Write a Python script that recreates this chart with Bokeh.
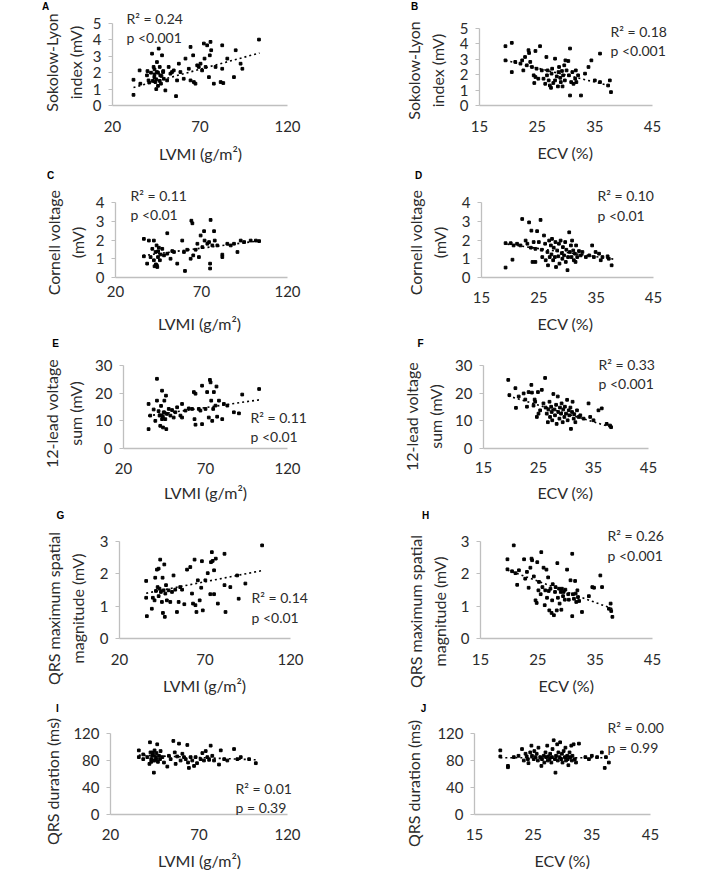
import math
from bokeh.plotting import figure
from bokeh.layouts import column, row
from bokeh.models import Range1d, FixedTicker, Label
from bokeh.embed import file_html
from bokeh.resources import INLINE

# ---------------- data ----------------
lvmi_ticks = [20, 70, 120]
ecv_ticks = [15, 25, 35, 45]

# A: LVMI vs Sokolow-Lyon
a_x = [32.0, 32.0, 35.5, 35.9, 39.7, 40.6, 42.6, 43.5, 43.9, 44.5, 45.4, 45.4, 46.4, 47.0, 47.3, 47.7, 48.3, 48.9,
       49.3, 50.2, 51.2, 52.1, 53.1, 54.0, 55.0, 56.3, 56.9, 57.9, 58.8, 60.7, 61.7, 63.6, 64.6, 64.6, 66.1, 66.5,
       67.4, 68.4, 69.3, 70.3, 71.2, 72.2, 72.6, 73.2, 74.1, 75.1, 75.6, 76.0, 76.4, 77.9, 78.9, 81.8, 82.7, 82.7,
       83.3, 85.6, 89.4, 90.4, 93.2, 94.2, 103.7, 44.0, 45.0, 46.0, 44.0, 47.0, 43.0, 48.0, 42.0, 46.0, 49.0, 40.0,
       41.0, 45.0]
a_y = [0.65, 1.57, 2.14, 1.33, 1.84, 1.53, 3.16, 2.35, 1.73, 1.43, 2.65, 2.04, 3.47, 2.35, 1.84, 1.33, 3.06, 2.04,
       1.63, 0.92, 1.53, 2.35, 1.94, 2.04, 2.14, 0.57, 1.53, 2.55, 2.04, 1.63, 2.86, 2.24, 3.57, 1.53, 3.06, 1.43,
       1.33, 2.45, 2.35, 2.55, 2.14, 3.78, 2.86, 2.35, 3.67, 1.73, 3.06, 3.88, 3.37, 1.33, 2.35, 1.43, 3.67, 2.24,
       1.37, 2.86, 1.73, 3.37, 2.55, 2.24, 4.02, 1.9, 1.6, 2.0, 2.2, 1.5, 1.5, 1.8, 2.0, 1.2, 2.1, 2.1, 1.4, 1.0]
a_trend_x = [32, 104]
a_trend_y = [1.1, 3.2]

# B: ECV vs Sokolow-Lyon
b_x = [19.5, 19.5, 20.6, 20.6, 21.2, 22.1, 22.4, 22.6, 22.9, 23.2, 23.5, 23.6, 23.8, 24.1, 24.4, 24.5, 24.7, 24.7,
       24.9, 25.2, 25.5, 25.8, 26.1, 26.4, 26.6, 26.7, 26.8, 27.0, 27.2, 27.4, 27.5, 27.6, 27.8, 28.1, 28.1, 28.4,
       28.6, 28.7, 28.8, 29.0, 29.1, 29.3, 29.4, 29.5, 29.7, 29.8, 29.9, 30.1, 30.4, 30.5, 30.7, 30.7, 30.9, 31.1,
       31.3, 31.6, 31.7, 31.8, 32.1, 32.6, 33.3, 33.9, 34.4, 35.0, 35.9, 35.9, 37.3, 37.6, 37.8]
b_y = [3.85, 2.93, 4.07, 2.17, 2.83, 2.72, 2.93, 2.28, 3.15, 2.61, 3.59, 3.41, 2.83, 2.50, 1.96, 1.46, 3.54, 1.85,
       2.39, 1.74, 3.85, 2.28, 1.74, 1.41, 3.15, 1.96, 2.28, 1.63, 1.30, 1.15, 2.07, 2.39, 1.46, 1.63, 3.04, 1.89,
       1.24, 2.17, 2.50, 1.80, 1.52, 2.24, 1.24, 1.96, 2.61, 1.63, 2.93, 2.28, 2.89, 1.96, 3.70, 0.65, 1.52, 2.17,
       1.41, 1.74, 2.28, 1.52, 1.96, 0.65, 2.07, 2.50, 2.93, 1.63, 3.37, 1.52, 1.30, 1.63, 0.87]
b_trend_x = [19.5, 38.0]
b_trend_y = [2.93, 1.25]

# C: LVMI vs Cornell voltage
c_x = [36.5, 36.5, 38.4, 39.4, 40.4, 41.4, 42.3, 42.3, 42.7, 43.3, 43.9, 44.3, 44.7, 45.2, 45.8, 46.2, 47.2, 48.2,
       50.1, 50.1, 52.0, 53.0, 54.0, 55.9, 58.8, 59.8, 60.4, 61.7, 63.7, 64.1, 64.7, 65.2, 66.6, 67.6, 68.5, 69.5,
       70.5, 71.5, 71.8, 73.4, 74.4, 75.0, 75.0, 75.3, 76.3, 77.3, 77.7, 79.2, 82.1, 82.1, 85.0, 87.0, 88.9, 90.9,
       92.8, 94.8, 98.6, 101.6, 103.5, 43.5, 44.0, 44.8]
c_y = [2.06, 1.13, 0.74, 1.97, 1.09, 1.53, 1.97, 0.92, 0.60, 1.36, 1.71, 0.56, 1.09, 1.59, 0.92, 1.23, 1.53, 1.18,
       2.36, 1.27, 1.00, 1.41, 1.36, 0.74, 1.97, 1.36, 0.35, 1.48, 1.00, 3.03, 2.89, 1.18, 1.48, 1.80, 1.09, 2.24,
       1.62, 2.47, 1.97, 1.80, 1.89, 0.74, 0.48, 3.07, 1.71, 2.47, 1.97, 1.71, 1.09, 1.22, 1.80, 1.71, 1.80, 1.36,
       1.97, 1.89, 1.97, 1.97, 1.94, 0.7, 0.65, 1.4]
c_trend_x = [36, 104]
c_trend_y = [1.17, 1.96]

# D: ECV vs Cornell voltage
d_x = [19.2, 19.2, 20.1, 20.4, 20.6, 21.2, 21.8, 22.1, 22.7, 23.0, 23.3, 23.6, 23.7, 23.9, 24.1, 24.4, 24.4, 24.7,
       25.0, 25.3, 25.5, 25.6, 25.9, 26.1, 26.2, 26.5, 26.6, 26.8, 26.9, 27.1, 27.2, 27.3, 27.5, 27.6, 27.8, 27.9,
       28.0, 28.2, 28.4, 28.5, 28.6, 28.8, 29.0, 29.1, 29.2, 29.4, 29.6, 29.7, 29.8, 30.0, 30.1, 30.3, 30.4, 30.6,
       30.7, 30.8, 31.0, 31.1, 31.3, 31.4, 31.5, 31.7, 32.0, 32.3, 32.6, 33.2, 33.8, 34.3, 34.6, 34.9, 35.5, 35.8,
       36.1, 37.0, 37.2, 37.7]
d_y = [0.53, 1.83, 1.83, 0.95, 1.71, 1.80, 1.71, 3.12, 1.97, 1.80, 2.94, 1.59, 2.50, 0.83, 1.89, 1.53, 0.83, 2.47,
       1.89, 3.07, 1.48, 1.09, 2.24, 1.80, 0.92, 1.36, 0.65, 1.97, 1.09, 1.71, 1.23, 2.06, 0.92, 1.59, 1.09, 1.89,
       0.56, 1.44, 1.13, 1.80, 0.74, 1.97, 1.30, 1.00, 1.62, 1.18, 1.89, 0.83, 1.48, 0.39, 1.09, 2.41, 1.36, 1.71,
       1.09, 1.97, 1.44, 0.92, 1.27, 0.83, 1.71, 1.09, 1.41, 1.18, 1.36, 1.09, 1.18, 1.71, 1.09, 1.36, 1.27, 0.92,
       1.09, 1.13, 1.00, 0.65]
d_trend_x = [19.5, 38.0]
d_trend_y = [1.78, 0.98]

# E: LVMI vs 12-lead voltage sum
e_x = [35.3, 35.3, 36.3, 38.4, 39.4, 40.4, 40.4, 41.4, 42.0, 42.4, 42.9, 43.5, 43.5, 44.1, 44.5, 44.9, 45.5, 45.9,
       46.1, 46.5, 47.6, 48.6, 49.6, 50.6, 51.6, 52.7, 54.7, 55.7, 55.7, 57.8, 59.8, 61.8, 62.9, 63.3, 63.9, 63.9,
       65.9, 66.9, 67.9, 67.9, 70.0, 71.0, 72.0, 72.7, 73.1, 73.5, 74.1, 74.7, 75.1, 76.1, 76.7, 77.1, 78.2, 80.2,
       81.2, 83.3, 87.3, 90.4, 92.4, 102.7, 43.0, 44.0, 45.0]
e_y = [7.0, 16.1, 11.9, 14.1, 10.0, 25.2, 17.3, 13.5, 11.9, 8.2, 15.4, 20.9, 10.6, 7.6, 13.1, 17.3, 10.6, 19.1,
       7.0, 12.5, 14.3, 11.9, 13.9, 11.2, 13.1, 14.9, 11.9, 11.2, 16.1, 13.7, 14.5, 14.3, 20.4, 10.6, 19.8, 8.6,
       14.3, 13.7, 8.8, 22.7, 14.3, 20.4, 11.2, 24.8, 23.9, 17.3, 10.0, 14.3, 20.4, 15.5, 22.4, 11.5, 17.3, 10.6,
       16.1, 15.5, 13.1, 12.7, 19.5, 21.5, 12.0, 11.5, 13.0]
e_trend_x = [35, 103]
e_trend_y = [11.8, 17.6]

# F: ECV vs 12-lead voltage sum
f_x = [19.5, 19.7, 20.8, 20.9, 21.4, 22.3, 22.6, 22.9, 23.2, 23.7, 23.8, 24.1, 24.3, 24.4, 24.7, 24.9, 25.0, 25.3,
       25.6, 25.9, 26.2, 26.3, 26.5, 26.7, 26.8, 27.0, 27.1, 27.3, 27.4, 27.5, 27.7, 27.9, 28.0, 28.2, 28.3, 28.5,
       28.6, 28.8, 28.9, 29.1, 29.2, 29.4, 29.5, 29.7, 29.8, 30.0, 30.2, 30.3, 30.5, 30.6, 30.8, 30.9, 31.1, 31.2,
       31.4, 31.5, 31.7, 32.0, 32.3, 32.6, 33.2, 34.1, 34.4, 35.0, 35.9, 36.5, 37.4, 38.0, 38.2]
f_y = [24.8, 19.3, 21.8, 14.7, 18.8, 19.9, 17.7, 15.1, 20.4, 23.0, 20.2, 15.5, 17.7, 16.9, 11.4, 20.4, 12.6, 13.8,
       21.2, 16.3, 25.5, 14.8, 12.6, 9.5, 14.1, 16.9, 11.4, 15.1, 13.2, 10.2, 19.7, 14.1, 12.0, 15.8, 8.9, 18.8,
       13.2, 10.8, 14.8, 12.6, 16.3, 9.5, 14.1, 11.4, 15.1, 12.6, 17.6, 10.2, 13.8, 12.0, 14.8, 7.1, 13.2, 16.9,
       10.8, 12.4, 9.5, 13.8, 11.4, 12.0, 10.8, 16.3, 11.4, 10.2, 13.8, 14.5, 8.9, 8.3, 7.7]
f_trend_x = [19.5, 38.2]
f_trend_y = [19.0, 7.7]

# G: LVMI vs QRS maximum spatial magnitude
g_x = [35.6, 35.6, 36.0, 38.9, 39.5, 40.5, 40.9, 41.3, 41.9, 42.3, 42.9, 42.9, 43.4, 43.8, 44.2, 44.8, 45.2, 45.4,
       45.8, 46.2, 46.5, 46.8, 47.2, 47.7, 48.7, 49.7, 50.7, 51.6, 52.6, 53.6, 54.6, 55.5, 56.6, 57.9, 59.5, 61.4,
       62.4, 63.0, 63.9, 64.4, 65.0, 65.8, 66.9, 67.8, 68.2, 68.7, 70.2, 71.6, 73.1, 73.5, 74.0, 74.5, 75.3, 75.3,
       76.3, 77.5, 81.4, 81.4, 82.0, 84.8, 88.8, 89.7, 93.6, 103.4]
g_y = [1.78, 1.26, 0.69, 0.92, 1.26, 1.18, 1.88, 1.47, 2.13, 1.59, 2.16, 1.31, 1.54, 2.44, 1.44, 1.13, 1.88, 0.79,
       1.49, 2.29, 0.67, 1.39, 1.65, 1.18, 1.49, 1.13, 1.44, 1.95, 1.51, 0.82, 1.13, 1.59, 1.51, 1.06, 2.13, 2.21,
       1.39, 1.08, 2.44, 1.03, 0.82, 1.80, 1.18, 1.57, 2.39, 0.87, 1.80, 2.02, 1.37, 2.36, 2.67, 2.40, 2.11, 1.37,
       2.47, 1.08, 2.62, 1.65, 0.82, 1.59, 1.95, 1.23, 1.70, 2.88]
g_trend_x = [35.6, 103.4]
g_trend_y = [1.40, 2.10]

# H: ECV vs QRS maximum spatial magnitude
h_x = [19.7, 19.7, 20.8, 20.5, 21.1, 21.4, 21.7, 22.6, 22.8, 23.1, 23.4, 23.7, 23.9, 24.0, 24.3, 24.6, 24.8, 24.9,
       25.1, 25.2, 25.5, 25.6, 25.8, 26.0, 26.2, 26.3, 26.5, 26.6, 26.8, 26.9, 27.0, 27.2, 27.4, 27.5, 27.6, 27.8,
       28.0, 28.1, 28.3, 28.4, 28.5, 28.7, 28.8, 29.0, 29.1, 29.2, 29.4, 29.5, 29.7, 29.8, 30.1, 30.3, 30.4, 30.7,
       31.0, 31.0, 31.1, 31.3, 31.5, 31.6, 31.7, 31.9, 32.0, 32.2, 32.7, 33.9, 34.5, 34.8, 35.9, 36.2, 37.4, 37.7,
       37.8, 38.0]
h_y = [2.45, 2.14, 2.88, 2.08, 2.02, 1.66, 2.11, 2.45, 1.85, 2.06, 1.57, 2.19, 2.47, 2.42, 1.92, 1.18, 1.10, 2.36,
       1.49, 1.75, 1.37, 2.67, 1.59, 2.19, 1.03, 1.49, 2.13, 1.26, 1.89, 1.47, 0.87, 1.54, 0.79, 1.18, 1.68, 0.72,
       1.44, 1.59, 0.87, 2.33, 1.26, 1.54, 1.08, 1.44, 0.89, 1.54, 1.31, 1.44, 1.20, 1.51, 2.13, 1.37, 1.20, 1.80,
       2.62, 0.69, 1.37, 1.23, 1.78, 1.39, 1.13, 1.49, 1.28, 1.16, 0.82, 1.31, 1.59, 1.57, 1.95, 1.59, 0.92, 1.08,
       0.85, 0.67]
h_trend_x = [19.7, 38.0]
h_trend_y = [2.12, 0.92]

# I: LVMI vs QRS duration
i_x = [36.0, 36.0, 38.5, 38.5, 40.8, 42.3, 42.6, 43.0, 43.6, 44.2, 44.5, 44.9, 45.5, 46.0, 46.4, 46.8, 47.4, 48.0,
       48.3, 49.3, 50.2, 52.1, 53.0, 54.0, 55.5, 56.3, 56.8, 57.7, 58.7, 59.6, 60.6, 61.5, 62.5, 63.4, 63.8, 64.3,
       65.3, 66.2, 67.2, 68.1, 68.9, 70.9, 71.9, 72.8, 73.8, 74.7, 75.7, 76.6, 77.5, 78.5, 81.3, 82.3, 84.2, 86.0,
       89.8, 91.7, 93.6, 98.3, 102.1, 43.0, 44.0, 45.0, 42.0, 46.0, 44.0]
i_y = [95, 85, 89, 82, 85, 107, 92, 82, 87, 80, 62, 95, 85, 91, 104, 78, 87, 82,
       94, 85, 77, 71, 87, 82, 109, 92, 75, 86, 105, 80, 90, 85, 82, 103, 77, 69,
       85, 80, 72, 85, 76, 82, 91, 80, 94, 85, 81, 102, 87, 80, 74, 95, 82, 80,
       97, 82, 85, 82, 76, 78, 88, 80, 75, 82, 92]
i_trend_x = [36, 102]
i_trend_y = [88, 81]

# J: ECV vs QRS duration
j_x = [19.4, 19.4, 20.7, 20.7, 21.7, 22.5, 23.1, 23.4, 23.7, 23.9, 24.1, 24.2, 24.5, 24.7, 24.8, 25.1, 25.2, 25.4,
       25.6, 25.8, 25.9, 26.2, 26.4, 26.5, 26.8, 26.9, 27.1, 27.2, 27.4, 27.5, 27.6, 27.8, 27.9, 28.1, 28.2, 28.3,
       28.5, 28.7, 28.8, 28.9, 29.1, 29.2, 29.3, 29.5, 29.6, 29.8, 29.9, 30.0, 30.2, 30.4, 30.5, 30.6, 30.8, 30.9,
       31.0, 31.2, 31.3, 31.5, 31.6, 31.7, 31.9, 32.1, 32.3, 32.8, 33.9, 34.5, 35.0, 35.9, 36.7, 37.2, 37.4, 37.9]
j_y = [95, 86, 72, 70, 85, 87, 97, 80, 90, 86, 82, 76, 92, 102, 87, 82, 94, 85,
       90, 80, 99, 85, 72, 82, 87, 77, 92, 85, 102, 80, 86, 82, 90, 77, 85, 97,
       110, 82, 62, 87, 104, 80, 92, 85, 107, 82, 90, 77, 94, 85, 99, 80, 87, 82,
       73, 92, 85, 102, 80, 87, 104, 82, 77, 105, 85, 82, 87, 85, 92, 69, 85, 77]
j_trend_x = [19.4, 38.0]
j_trend_y = [84, 84]

# ---------------- style / layout ----------------
FONT = "Lato"
TXT = "#2b2b2b"
AXIS = "#bfbfbf"

row_top = [0, 165, 333, 503, 698]
row_bot = [165, 333, 503, 698, 870]
col_left = [0, 355]
col_w = [355, 350]


def panel(ri, ci, letter, xs, ys, tx, ty, xr, xt, yr, yt, xlabel, ylabel,
          frame, stats, stat_pos, letter_pos, xgap, xtitle_pos, ytitle_pos):
    fl, fr, ft, fb = frame
    cl = col_left[ci]
    ct = row_top[ri]
    w = col_w[ci]
    h = row_bot[ri] - row_top[ri]
    cr = cl + w
    cb = ct + h
    # extend ranges so that the whole canvas is the frame, keeping the axes at their pixel places
    xpp = (xr[1] - xr[0]) / (fr - fl)
    ypp = (yr[1] - yr[0]) / (fb - ft)
    x_rng = Range1d(xr[0] - (fl - cl) * xpp, xr[0] + (cr - fl) * xpp)
    y_rng = Range1d(yr[0] - (cb - fb) * ypp, yr[0] + (fb - ct) * ypp)
    p = figure(width=w, height=h, x_range=x_rng, y_range=y_rng,
               output_backend="svg", toolbar_location=None,
               min_border_left=0, min_border_right=0, min_border_top=0, min_border_bottom=0)
    p.outline_line_color = None
    p.grid.visible = False
    p.background_fill_color = "white"
    p.border_fill_color = "white"
    for ax in (p.xaxis[0], p.yaxis[0]):
        ax.axis_line_color = AXIS
        ax.axis_line_width = 1.3
        ax.major_tick_line_color = AXIS
        ax.minor_tick_line_color = None
        ax.major_tick_in = 0
        ax.major_label_text_font = FONT
        ax.major_label_text_font_size = "15px"
        ax.major_label_text_color = TXT
    p.xaxis.fixed_location = yr[0]
    p.yaxis.fixed_location = xr[0]
    p.xaxis.bounds = xr
    p.yaxis.bounds = yr
    p.xaxis.ticker = FixedTicker(ticks=xt)
    p.yaxis.ticker = FixedTicker(ticks=yt)
    p.xaxis.major_tick_out = 0
    p.yaxis.major_tick_out = 4
    p.xaxis.major_label_standoff = xgap - 7
    p.yaxis.major_label_standoff = 7

    p.line(tx, ty, line_color="black", line_width=1.6, line_dash="2 3")
    p.scatter(xs, ys, marker="square", size=2.7, fill_color="black", line_color="black")

    def lab(text, px, py, size, font=FONT, style="normal", align="left", angle=0.0, color=TXT):
        p.add_layout(Label(x=px - cl, y=cb - py, x_units="screen", y_units="screen", text=text,
                           text_font=font, text_font_size=size, text_font_style=style, text_color=color,
                           text_baseline="middle", text_align=align, angle=angle, text_line_height=1.25))

    for txt, (px, py) in zip(stats, stat_pos):
        lab(txt, px, py, "14px")
    lab(letter, letter_pos[0], letter_pos[1], "10px", font="Liberation Sans", style="bold",
        align="center", color="black")
    lab(xlabel, xtitle_pos[0], xtitle_pos[1], "16px", align="center")
    lab(ylabel, ytitle_pos[0], ytitle_pos[1], "16px", align="center", angle=math.pi / 2)
    return p


LV = "LVMI (g/m²)"
EC = "ECV (%)"

pA = panel(0, 0, "A", a_x, a_y, a_trend_x, a_trend_y, (20, 120), lvmi_ticks, (0, 5), [0, 1, 2, 3, 4, 5], LV,
           "Sokolow-Lyon\nindex (mV)", (112, 287, 23, 105), ["R² = 0.24", "p <0.001"], [(126, 18), (126, 37)],
           (45, 6), 22, (200, 153), (63, 62))
pB = panel(0, 1, "B", b_x, b_y, b_trend_x, b_trend_y, (15, 45), ecv_ticks, (0, 5), [0, 1, 2, 3, 4, 5], EC,
           "Sokolow-Lyon\nindex (mV)", (479, 652, 28, 105), ["R² = 0.18", "p <0.001"], [(610, 31), (610, 50)],
           (414, 6), 22, (565, 152), (425, 70))
pC = panel(1, 0, "C", c_x, c_y, c_trend_x, c_trend_y, (20, 120), lvmi_ticks, (0, 4), [0, 1, 2, 3, 4], LV,
           "Cornell voltage\n(mV)", (115, 287, 202, 277), ["R² = 0.11", "p <0.01"], [(130, 195), (130, 214)],
           (50, 175), 15, (199, 323), (65, 242))
pD = panel(1, 1, "D", d_x, d_y, d_trend_x, d_trend_y, (15, 45), ecv_ticks, (0, 4), [0, 1, 2, 3, 4], EC,
           "Cornell voltage\n(mV)", (481, 653, 202, 277), ["R² = 0.10", "p <0.01"], [(597, 195), (597, 215)],
           (418, 175), 21, (565, 323), (427, 242))
pE = panel(2, 0, "E", e_x, e_y, e_trend_x, e_trend_y, (20, 120), lvmi_ticks, (0, 30), [0, 10, 20, 30], LV,
           "12-lead voltage\nsum (mV)", (123, 287, 365, 448), ["R² = 0.11", "p <0.01"], [(250, 417), (250, 436)],
           (55, 343), 21, (205, 492), (63, 413))
pF = panel(2, 1, "F", f_x, f_y, f_trend_x, f_trend_y, (15, 45), ecv_ticks, (0, 30), [0, 10, 20, 30], EC,
           "12-lead voltage\nsum (mV)", (483, 648, 365, 448), ["R² = 0.33", "p <0.001"], [(598, 364), (598, 383)],
           (420, 343), 20, (565, 492), (423, 416))
pG = panel(3, 0, "G", g_x, g_y, g_trend_x, g_trend_y, (20, 120), lvmi_ticks, (0, 3), [0, 1, 2, 3], LV,
           "QRS maximum spatial\nmagnitude (mV)", (119, 290, 541, 638), ["R² = 0.14", "p <0.01"],
           [(251, 597), (251, 617)], (60, 515), 22, (204, 685), (65, 608))
pH = panel(3, 1, "H", h_x, h_y, h_trend_x, h_trend_y, (15, 45), ecv_ticks, (0, 3), [0, 1, 2, 3], EC,
           "QRS maximum spatial\nmagnitude (mV)", (480, 652, 541, 638), ["R² = 0.26", "p <0.001"],
           [(607, 535), (607, 555)], (425, 515), 22, (566, 685), (427, 611))
pI = panel(4, 0, "I", i_x, i_y, i_trend_x, i_trend_y, (20, 120), lvmi_ticks, (0, 120), [0, 40, 80, 120], LV,
           "QRS duration (ms)", (110, 287, 733, 814), ["R² = 0.01", "p = 0.39"], [(235, 788), (235, 807)],
           (57, 708), 21, (199, 860), (52, 781))
pJ = panel(4, 1, "J", j_x, j_y, j_trend_x, j_trend_y, (15, 45), ecv_ticks, (0, 120), [0, 40, 80, 120], EC,
           "QRS duration (ms)", (474, 650, 733, 814), ["R² = 0.00", "p = 0.99"], [(607, 727), (607, 747)],
           (423, 708), 21, (562, 860), (413, 783))

layout = column(row(pA, pB), row(pC, pD), row(pE, pF), row(pG, pH), row(pI, pJ))

with open("out.html", "w") as fh:
    fh.write(file_html(layout, INLINE))
